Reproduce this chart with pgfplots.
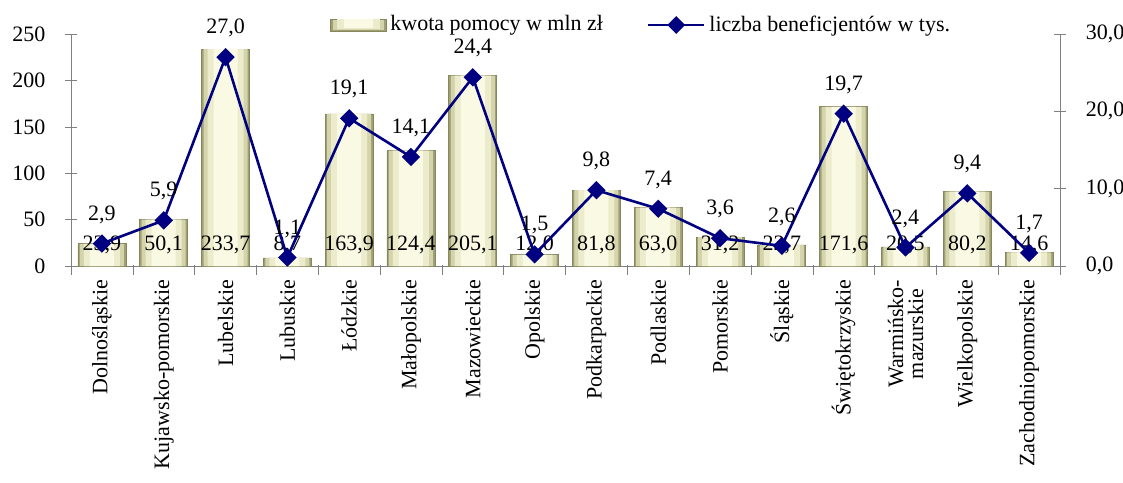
\documentclass[border=0pt]{standalone}
\usepackage{pgfplots}
\pgfplotsset{compat=1.18}
\usepackage{pgfplotstable}
\usepackage{fontspec}
\setmainfont{Liberation Serif}
\definecolor{barA}{RGB}{160,160,115}
\definecolor{barB}{RGB}{212,212,172}
\definecolor{barC}{RGB}{236,236,204}
\definecolor{barD}{RGB}{250,250,228}
\definecolor{baredge}{RGB}{135,135,95}
\definecolor{navyline}{RGB}{0,0,128}
\definecolor{axgray}{RGB}{128,128,128}
\pgfplotstableread{
x kwota benef
0 23.9 2.9
1 50.1 5.9
2 233.7 27.0
3 8.7 1.1
4 163.9 19.1
5 124.4 14.1
6 205.1 24.4
7 12.0 1.5
8 81.8 9.8
9 63.0 7.4
10 31.2 3.6
11 22.7 2.6
12 171.6 19.7
13 20.5 2.4
14 80.2 9.4
15 14.6 1.7
}\data
\pgfplotsset{common/.style={
  scale only axis, width=494.5pt, height=116pt,
  xmin=-0.5, xmax=15.5,
  axis line style={axgray},
  /pgf/number format/assume math mode=true,
  tick label style={black},
}}
\begin{document}
\fontsize{11}{13}\selectfont
\begin{tikzpicture}
\begin{axis}[common, name=ax,
  ymin=0, ymax=250, ytick={0,50,...,250},
  axis y line*=left, axis x line*=bottom,
  y tick style={axgray}, major tick length=6pt, tick align=center,
  yticklabel style={xshift=-6pt},
  xtick={0,...,15},
  xticklabels={Dolnośląskie,Kujawsko-pomorskie,Lubelskie,Lubuskie,Łódzkie,Małopolskie,Mazowieckie,Opolskie,Podkarpackie,Podlaskie,Pomorskie,Śląskie,Świętokrzyskie,{Warmińsko-\\mazurskie},Wielkopolskie,Zachodniopomorskie},
  xticklabel style={rotate=90, anchor=east, align=center, font=\fontsize{11}{10}\selectfont},
  major x tick style={draw=none},
  minor xtick={-0.5,0.5,...,15.5},
  minor x tick style={axgray, yshift=-1.75pt},
  minor tick length=5pt,
  legend columns=2,
  legend style={draw=none, fill=none, at={(rel axis cs:0.255,1.039)}, anchor=west,
    /tikz/every even column/.append style={column sep=20pt}},
]
\addplot[ybar, bar shift=0pt, bar width=24pt, draw=baredge, fill=barA,
  legend image code/.code={%
    \draw[draw=baredge, fill=barA] (0pt,-3pt) rectangle (28pt,3pt);
    \fill[barB] (1.5pt,-2.2pt) rectangle (26.5pt,2.4pt);
    \fill[barC] (3.5pt,-1.6pt) rectangle (24.5pt,2.6pt);
    \fill[barD] (7pt,-1pt) rectangle (21pt,2.7pt);}]
  table[x=x, y=kwota]{\data};
\addlegendentry{kwota pomocy w mln zł}
\addlegendimage{navyline, line width=1.2pt, mark=square*, mark size=2.6pt, mark options={rotate=45},
  legend image code/.code={\draw[navyline, line width=1.2pt] (0pt,0pt) -- (28pt,0pt); \fill[navyline] (14pt,0pt) +(0,3.6pt) -- +(3.6pt,0) -- +(0,-3.6pt) -- +(-3.6pt,0) -- cycle;}}
\addlegendentry{liczba beneficjentów w tys.}
\addplot[ybar, bar shift=0pt, bar width=22pt, draw=none, fill=barB, forget plot]
  table[x=x, y=kwota]{\data};
\addplot[ybar, bar shift=0pt, bar width=18pt, draw=none, fill=barC, forget plot]
  table[x=x, y=kwota]{\data};
\addplot[ybar, bar shift=0pt, bar width=12pt, draw=none, fill=barD, forget plot]
  table[x=x, y=kwota]{\data};
\addplot[draw=none, mark=none, forget plot, nodes near coords={\pgfmathprintnumber[fixed,fixed zerofill,precision=1,use comma]{\pgfplotspointmeta}},
  point meta=explicit, every node near coord/.style={anchor=center, yshift=10.5pt, black}]
  table[x=x, y expr=0, meta=kwota]{\data};
\end{axis}
\begin{axis}[common,
  ymin=0, ymax=30, ytick={0,10,20,30},
  axis y line*=right, axis x line=none,
  y tick style={axgray}, major tick length=6pt, tick align=center,
  yticklabel style={xshift=6pt, /pgf/number format/.cd, fixed, fixed zerofill, precision=1, use comma},
]
\addplot[navyline, line width=1.3pt, mark=square*, mark size=2.6pt, mark options={rotate=45},
  nodes near coords={\pgfmathprintnumber[fixed,fixed zerofill,precision=1,use comma]{\pgfplotspointmeta}},
  every node near coord/.style={anchor=center, yshift=14.5pt, black}]
  table[x=x, y=benef]{\data};
\end{axis}
\pgfresetboundingbox
\path (ax.south west) +(-35.5pt,-108pt) (ax.north east) +(31.5pt,17pt);
\end{tikzpicture}
\end{document}
